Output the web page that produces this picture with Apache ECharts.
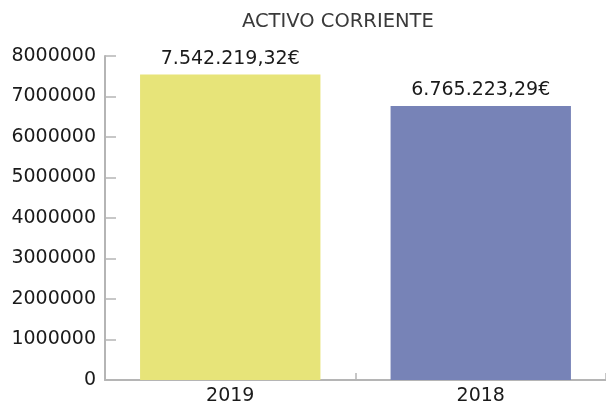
<!DOCTYPE html>
<html>
<head>
<meta charset="utf-8">
<script src="https://cdn.jsdelivr.net/npm/echarts@6/dist/echarts.min.js"></script>
<style>
  html, body { margin: 0; padding: 0; background: #fff; }
  #chart { width: 606px; height: 406px; }
</style>
</head>
<body>
<div id="chart"></div>
<script>
var years = ['2019', '2018'];
var values = [7542219.32, 6765223.29];
var barColors = ['#e7e479', '#7783b7'];
var yTicks = [0, 1000000, 2000000, 3000000, 4000000, 5000000, 6000000, 7000000, 8000000];

function euro(v) {
    var parts = v.toFixed(2).split('.');
    var intPart = parts[0].replace(/\B(?=(\d{3})+(?!\d))/g, '.');
    return intPart + ',' + parts[1] + '€';
}

var axisGrey = '#b5b5b5';
var font = 'DejaVu Sans';

var option = {
    animation: false,
    backgroundColor: '#fff',
    title: {
        text: 'ACTIVO CORRIENTE',
        left: 237,
        top: 7,
        textStyle: {
            fontFamily: font,
            fontSize: 19.5,
            fontWeight: 'normal',
            color: '#3a3a3a'
        }
    },
    grid: {
        left: 105,
        right: -3,
        top: 56,
        bottom: 24.5
    },
    xAxis: {
        type: 'category',
        data: years,
        axisLine: { lineStyle: { color: axisGrey, width: 2 } },
        axisTick: { show: true, inside: true, length: 7, lineStyle: { color: axisGrey, width: 1.5 } },
        axisLabel: {
            fontFamily: font,
            fontSize: 19,
            color: '#1a1a1a',
            margin: 7
        }
    },
    yAxis: {
        type: 'value',
        min: yTicks[0],
        max: yTicks[yTicks.length - 1],
        interval: yTicks[1] - yTicks[0],
        splitLine: { show: false },
        axisLine: { show: true, lineStyle: { color: axisGrey, width: 2 } },
        axisTick: { show: true, inside: true, length: 11, lineStyle: { color: axisGrey, width: 1.5 } },
        axisLabel: {
            fontFamily: font,
            fontSize: 19,
            color: '#1a1a1a',
            margin: 9,
            formatter: function (v) { return String(v); }
        }
    },
    series: [{
        type: 'bar',
        barWidth: '72%',
        data: values.map(function (v, i) {
            return { value: v, itemStyle: { color: barColors[i] } };
        }),
        label: {
            show: true,
            position: 'top',
            distance: 6,
            fontFamily: font,
            fontSize: 19,
            color: '#1a1a1a',
            formatter: function (p) { return euro(p.value); }
        }
    }]
};

var myChart = echarts.init(document.getElementById('chart'));
myChart.setOption(option);
</script>
</body>
</html>
